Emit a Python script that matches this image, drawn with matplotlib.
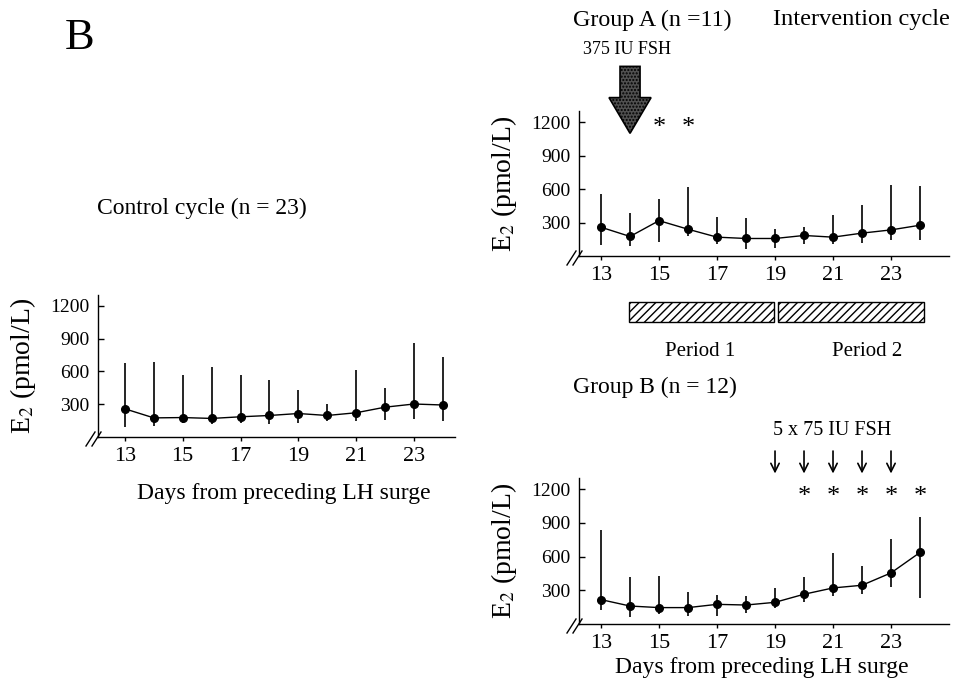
import numpy as np
import matplotlib
matplotlib.use('Agg')
import matplotlib.pyplot as plt
from matplotlib.patches import FancyArrow, Rectangle
from matplotlib.transforms import blended_transform_factory

plt.rcParams['font.family'] = ['Liberation Serif', 'DejaVu Serif']
plt.rcParams['mathtext.fontset'] = 'stix'

# Data (E2 in pmol/L, mean with range bars)
days = [13, 14, 15, 16, 17, 18, 19, 20, 21, 22, 23, 24]

control_mean = [258, 175, 178, 170, 185, 197, 215, 197, 222, 273, 302, 293]
control_low = [94, 100, 124, 115, 130, 121, 130, 145, 150, 160, 169, 145]
control_high = [673, 691, 566, 637, 566, 518, 428, 303, 616, 452, 864, 736]

groupA_mean = [258, 175, 317, 240, 169, 157, 157, 184, 169, 205, 234, 276]
groupA_low = [100, 86, 127, 175, 110, 62, 71, 110, 110, 115, 139, 139]
groupA_high = [555, 389, 513, 620, 347, 339, 246, 264, 371, 454, 641, 626]

groupB_mean = [217, 160, 146, 146, 175, 169, 193, 265, 321, 345, 455, 637]
groupB_low = [122, 62, 92, 68, 74, 98, 140, 199, 247, 271, 330, 235]
groupB_high = [837, 420, 426, 283, 256, 247, 325, 420, 629, 515, 754, 950]

groupA_sig_days = [15, 16]
groupB_sig_days = [20, 21, 22, 23, 24]
groupA_fsh_day = 14
groupB_fsh_days = [19, 20, 21, 22, 23]
periods = [(13.95, 18.95, 'Period 1'), (19.1, 24.15, 'Period 2')]

yticks = [300, 600, 900, 1200]
xticks = [13, 15, 17, 19, 21, 23]

W, H = 964, 692
fig = plt.figure(figsize=(W / 100, H / 100), dpi=100)


def px_axes(left, top, right, bottom):
    return fig.add_axes([left / W, 1 - bottom / H, (right - left) / W, (bottom - top) / H])


def style_axes(ax, xlim, wpx, hpx):
    ax.set_xlim(*xlim)
    ax.set_ylim(0, 1300)
    ax.spines['top'].set_visible(False)
    ax.spines['right'].set_visible(False)
    for s in ['left', 'bottom']:
        ax.spines[s].set_linewidth(1.0)
    ax.set_yticks(yticks)
    ax.set_xticks(xticks)
    ax.tick_params(axis='y', direction='in', length=4, width=1.0, pad=6, labelsize=14)
    ax.tick_params(axis='x', direction='out', length=3, width=1.0, pad=4, labelsize=16)
    ax.set_ylabel('E$_2$ (pmol/L)', fontsize=20)
    ax.yaxis.set_label_coords(-60 / wpx, 0.5)
    # axis break marks "//"
    for dx in (-12, -6):
        ax.plot([(dx) / wpx, (dx + 9) / wpx], [-9 / hpx, 5 / hpx], color='black',
                lw=1.0, transform=ax.transAxes, clip_on=False)


def draw_series(ax, mean, low, high):
    m = np.array(mean)
    yerr = [m - np.array(low), np.array(high) - m]
    ax.errorbar(days, m, yerr=yerr, fmt='-o', color='black', ms=5.5, lw=1.0,
                elinewidth=1.2, capsize=0)


# Control cycle
ax1 = px_axes(98, 295, 455, 437)
style_axes(ax1, (12.07, 24.42), 357, 142)
draw_series(ax1, control_mean, control_low, control_high)

# Group A
ax2 = px_axes(579, 111, 949, 256)
style_axes(ax2, (12.24, 25.0), 370, 145)
draw_series(ax2, groupA_mean, groupA_low, groupA_high)

# Group B
ax3 = px_axes(579, 478, 949, 624)
style_axes(ax3, (12.24, 25.0), 370, 146)
draw_series(ax3, groupB_mean, groupB_low, groupB_high)

# big FSH arrow for group A
arrow = FancyArrow(groupA_fsh_day, 1700, 0, -600, width=0.69, head_width=1.45,
                   head_length=320, length_includes_head=True, facecolor='#505050',
                   edgecolor='black', hatch='.....', lw=1.2, clip_on=False)
ax2.add_patch(arrow)
for d in groupA_sig_days:
    ax2.text(d, 1150, '*', fontsize=19, ha='center', va='center', clip_on=False)

# small FSH arrows for group B
for d in groupB_fsh_days:
    ax3.annotate('', xy=(d, 1340), xytext=(d, 1540),
                 arrowprops=dict(arrowstyle='->', lw=1.2, color='black',
                                 mutation_scale=15, shrinkA=0, shrinkB=0),
                 annotation_clip=False)
for d in groupB_sig_days:
    ax3.text(d, 1130, '*', fontsize=19, ha='center', va='center', clip_on=False)

# hatched period boxes under group A
trans = blended_transform_factory(ax2.transData, ax2.transAxes)
for x0, x1, lab in periods:
    ax2.add_patch(Rectangle((x0, -0.455), x1 - x0, 0.138, transform=trans,
                            facecolor='white', edgecolor='black', hatch='////',
                            lw=1.0, clip_on=False))

# texts
def ftext(x, y, s, **kw):
    fig.text(x / W, 1 - y / H, s, **kw)


ftext(80, 38, 'B', fontsize=32, ha='center', va='center')
ftext(97, 208, 'Control cycle (n = 23)', fontsize=17, ha='left', va='center')
ftext(284, 493, 'Days from preceding LH surge', fontsize=17, ha='center', va='center')
ftext(573, 20, 'Group A (n =11)', fontsize=17.3, ha='left', va='center')
ftext(773, 20, 'Intervention cycle', fontsize=17.6, ha='left', va='center')
ftext(627, 49, '375 IU FSH', fontsize=13, ha='center', va='center')
ftext(700, 351, periods[0][2], fontsize=15, ha='center', va='center')
ftext(867, 351, periods[1][2], fontsize=15, ha='center', va='center')
ftext(573, 387, 'Group B (n = 12)', fontsize=17, ha='left', va='center')
ftext(773, 431, '5 x 75 IU FSH', fontsize=14.5, ha='left', va='center')
ftext(762, 667, 'Days from preceding LH surge', fontsize=17, ha='center', va='center')

fig.savefig('out.png', dpi=100)
